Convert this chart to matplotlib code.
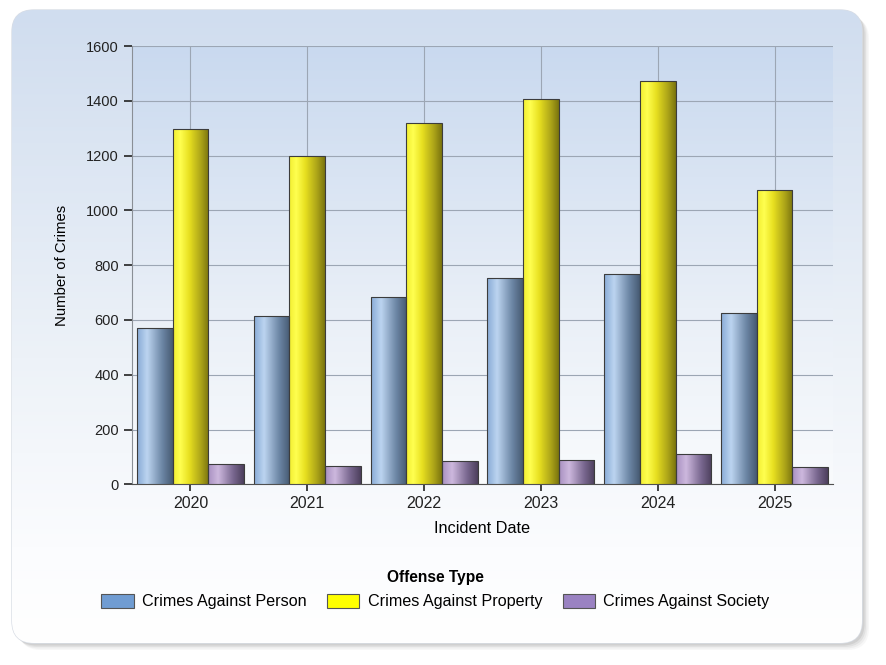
import numpy as np
import matplotlib
matplotlib.use("Agg")
import matplotlib.pyplot as plt
from matplotlib.colors import LinearSegmentedColormap
from matplotlib.patches import FancyBboxPatch, Patch

# data
years = ['2020', '2021', '2022', '2023', '2024', '2025']
person = [572, 614, 684, 752, 768, 625]
prop = [1298, 1198, 1318, 1405, 1473, 1074]
society = [74, 68, 85, 90, 112, 63]
series_names = ['Crimes Against Person', 'Crimes Against Property', 'Crimes Against Society']

plt.rcParams['font.family'] = ['Liberation Sans', 'DejaVu Sans']

W, H = 887, 665
fig = plt.figure(figsize=(W / 100, H / 100), dpi=100)
fig.patch.set_facecolor('white')

# background panel with rounded corners, shadow and vertical gradient
bg = fig.add_axes([0, 0, 1, 1], zorder=-5)
bg.set_xlim(0, W)
bg.set_ylim(H, 0)
bg.axis('off')
for i, a in enumerate([0.05, 0.07, 0.1, 0.14]):
    off = 7 - i * 1.5
    sh = FancyBboxPatch((12 + off, 10 + off), 850, 633,
                        boxstyle='round,pad=0,rounding_size=22',
                        fc='#707070', ec='none', alpha=a)
    bg.add_patch(sh)
panel = FancyBboxPatch((12, 10), 850, 633, boxstyle='round,pad=0,rounding_size=22',
                       fc='none', ec='#d8dde5', lw=1.0)
bg.add_patch(panel)
pan_cmap = LinearSegmentedColormap.from_list('pan', [(0, '#d0ddef'), (0.55, '#edf2f8'), (0.85, '#fbfcfe'), (1, '#ffffff')])
grad = np.linspace(0, 1, 256).reshape(-1, 1)
im = bg.imshow(grad, cmap=pan_cmap, extent=(12, 862, 643, 10), aspect='auto', zorder=1)
im.set_clip_path(panel)

# main plot area
ax = fig.add_axes([132 / W, 1 - 484.3 / H, (833 - 132) / W, (484.3 - 46) / H])
ax.set_facecolor('none')
x = np.arange(len(years))
w = 0.305

cmaps = [
    LinearSegmentedColormap.from_list('b', [(0, '#88abd6'), (0.28, '#bcd4f0'), (0.7, '#6d87a6'), (1, '#465a72')]),
    LinearSegmentedColormap.from_list('y', [(0, '#f2ee30'), (0.2, '#ffff50'), (0.45, '#e8e020'), (0.8, '#a8a018'), (1, '#7a740e')]),
    LinearSegmentedColormap.from_list('p', [(0, '#a890c0'), (0.28, '#cdb8de'), (0.7, '#7a6890'), (1, '#4c3f5c')]),
]
hgrad = np.linspace(0, 1, 128).reshape(1, -1)

for k, vals in enumerate([person, prop, society]):
    bars = ax.bar(x + (k - 1) * w, vals, width=w, color='none', edgecolor='#3c3c3c', lw=0.8, zorder=4)
    for b in bars:
        x0, y0 = b.get_x(), b.get_y()
        gi = ax.imshow(hgrad, cmap=cmaps[k], extent=(x0, x0 + b.get_width(), y0, y0 + b.get_height()),
                       aspect='auto', zorder=3, interpolation='bilinear')
        gi.set_clip_path(b)

# plot area gradient, blue at the top fading to white
area_cmap = LinearSegmentedColormap.from_list('area', [(0, '#c9d9ef'), (0.6, '#e9eff7'), (1, '#f9fbfd')])
ax.imshow(np.linspace(0, 1, 256).reshape(-1, 1), cmap=area_cmap, extent=(-0.5, 5.5, 0, 1600),
          aspect='auto', zorder=0)

ax.set_xlim(-0.5, 5.5)
ax.set_ylim(0, 1600)
ax.set_yticks(range(0, 1601, 200))
ax.set_xticks(x)
ax.set_xticklabels(years)
ax.grid(True, color='#9ca6b4', lw=0.8, zorder=1)
ax.set_axisbelow(True)
for s in ['top', 'right']:
    ax.spines[s].set_visible(False)
ax.spines['left'].set_color('#8a8f96')
ax.spines['bottom'].set_color('#505050')
ax.tick_params(axis='y', labelsize=10.5, colors='#222222', length=6, width=1.2, direction='out')
ax.tick_params(axis='x', labelsize=11.5, colors='#222222', length=5, width=1.2, direction='out')
ax.set_ylabel('Number of Crimes', fontsize=10.7, labelpad=12)
ax.set_xlabel('Incident Date', fontsize=11.7, labelpad=7)

handles = [Patch(fc=c, ec='#555555', lw=0.8) for c in ['#709cd2', '#ffff00', '#9a82c2']]
leg = fig.legend(handles, series_names, loc='center', bbox_to_anchor=(0.491, 0.113), ncol=3,
                 frameon=False, fontsize=11.6, title='Offense Type', handlelength=2.0,
                 handleheight=1.0, columnspacing=1.3, handletextpad=0.5)
leg.get_title().set_fontweight('bold')
leg.get_title().set_fontsize(11.2)

fig.savefig('out.png', dpi=100)
